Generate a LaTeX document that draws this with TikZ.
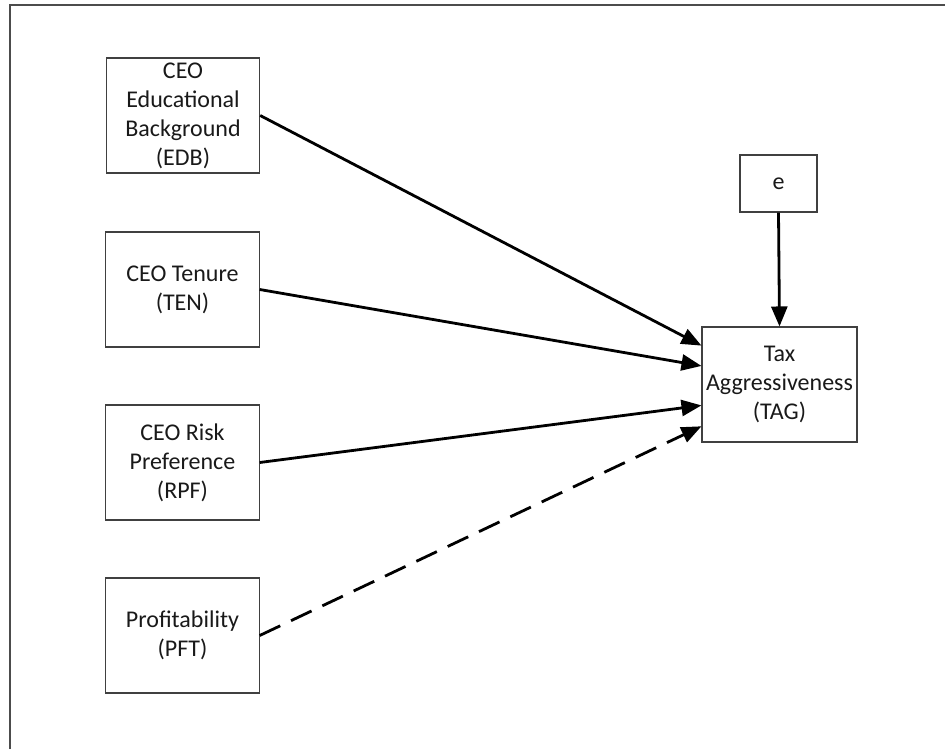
\documentclass[tikz,border=0pt]{standalone}
\usepackage{fontspec}
\setmainfont{Carlito}
\usetikzlibrary{arrows.meta,calc}
\begin{document}
\begin{tikzpicture}[x=0.75pt,y=-0.75pt,
  box/.style={draw=black!75,line width=0.8pt,align=center,inner sep=2pt,
    font=\fontsize{18}{21.8}\selectfont,text=black!90,
    minimum width=115pt,minimum height=86.25pt},
  ebox/.style={box,minimum width=57.75pt,minimum height=42.75pt},
  link/.style={line width=2.1pt,-{Triangle[length=15pt,width=12pt]}},
  dlink/.style={link,dash pattern=on 17pt off 9pt}]
\useasboundingbox (0,0) rectangle (945,749);
\draw[line width=1.1pt,black!70] (10,749) -- (10,5) -- (945,5);
\node[box] (EDB) at (183,115.5) {CEO\\Educational\\Background\\(EDB)};
\node[box] (TEN) at (182.5,289.5) {CEO Tenure\\(TEN)};
\node[box] (RPF) at (182.5,462.5) {CEO Risk\\Preference\\(RPF)};
\node[box] (PFT) at (182.5,635.5) {Profitability\\(PFT)};
\node[ebox] (E) at (778.5,183.5) {e};
\node[box,minimum width=116.25pt] (TAG) at (779.5,384.5) {Tax\\Aggressiveness\\(TAG)};
\coordinate (t1) at ($(TAG.north west)!0.165!(TAG.south west)$);
\coordinate (t2) at ($(TAG.north west)!0.34!(TAG.south west)$);
\coordinate (t3) at ($(TAG.north west)!0.68!(TAG.south west)$);
\coordinate (t4) at ($(TAG.north west)!0.86!(TAG.south west)$);
\draw[link] (EDB.east) -- (t1);
\draw[link] (TEN.east) -- (t2);
\draw[link] (RPF.east) -- (t3);
\draw[dlink] (PFT.east) -- (t4);
\draw[link] (E.south) -- (TAG.north);
\end{tikzpicture}
\end{document}
